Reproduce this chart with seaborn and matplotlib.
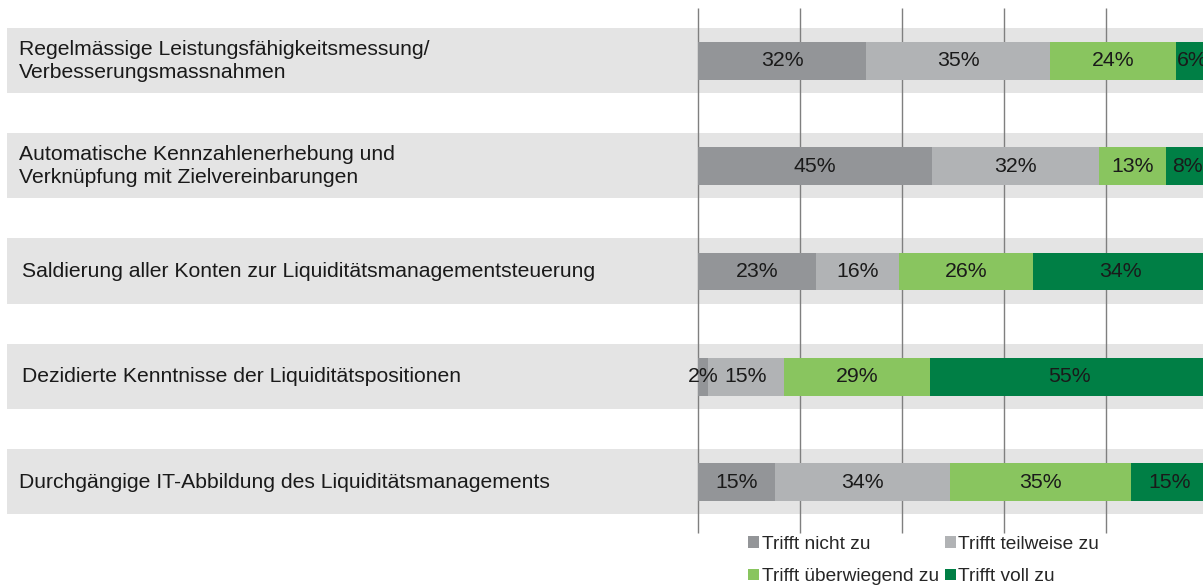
import numpy as np
import pandas as pd
import matplotlib
matplotlib.use("Agg")
import matplotlib.pyplot as plt
from matplotlib.patches import Patch
import matplotlib.transforms as mtransforms
import seaborn as sns

# Survey statements (top to bottom) and answer shares in percent
statements = [
    "Regelmässige Leistungsfähigkeitsmessung/\nVerbesserungsmassnahmen",
    "Automatische Kennzahlenerhebung und\nVerknüpfung mit Zielvereinbarungen",
    "Saldierung aller Konten zur Liquiditätsmanagementsteuerung",
    "Dezidierte Kenntnisse der Liquiditätspositionen",
    "Durchgängige IT-Abbildung des Liquiditätsmanagements",
]
answers = ["Trifft nicht zu", "Trifft teilweise zu", "Trifft überwiegend zu", "Trifft voll zu"]
nicht_zu = [32, 45, 23, 2, 15]
teilweise_zu = [35, 32, 16, 15, 34]
ueberwiegend_zu = [24, 13, 26, 29, 35]
voll_zu = [6, 8, 34, 55, 15]

colors = ["#939598", "#b1b3b5", "#89c55f", "#007f45"]
band_color = "#e4e4e4"
grid_color = "#7f7f7f"

values = np.array([nicht_zu, teilweise_zu, ueberwiegend_zu, voll_zu], dtype=float).T
# each row is scaled to a full 100 % bar
shares = values / values.sum(axis=1, keepdims=True) * 100
cum = np.cumsum(shares, axis=1)

df = pd.DataFrame({"statement": statements})
for j, a in enumerate(answers):
    df[a] = cum[:, j]

W, H = 1203, 588
sns.set_style("white")
plt.rcParams["font.family"] = ["Liberation Sans", "DejaVu Sans"]

fig = plt.figure(figsize=(W / 100, H / 100), dpi=100)
ax = fig.add_axes([0, 0, 1, 1])

# draw cumulative bars from the longest to the shortest so segments stack
for j in range(len(answers) - 1, -1, -1):
    sns.barplot(data=df, x=answers[j], y="statement", order=statements,
                color=colors[j], saturation=1, width=0.36, linewidth=0,
                orient="h", ax=ax, zorder=3)

px = 5.1          # pixels per percent
x0 = 698          # pixel position of 0 %
ax.set_xlim(-x0 / px, (W - x0) / px)
row0, step = 61, 105.25
ax.set_ylim((H - row0) / step, -row0 / step)
ax.axis("off")

label_tf = mtransforms.blended_transform_factory(mtransforms.IdentityTransform(), ax.transData)
n = len(statements)
for i in range(n):
    ax.axhspan(i - 0.315, i + 0.305, xmin=7 / W, xmax=1, color=band_color, zorder=1, lw=0)
    ax.text(19 if i in (0, 1, 4) else 22, i, statements[i], transform=label_tf,
            ha="left", va="center", fontsize=15.2, color="#1a1a1a",
            linespacing=1.25, zorder=4)

for g in [0, 20, 40, 60, 80]:
    ax.vlines(g, -0.505, 4.485, color=grid_color, lw=1, zorder=2)

# value labels centred in each segment
for i in range(n):
    left = 0
    for j in range(len(answers)):
        w = shares[i, j]
        ax.text(left + w / 2, i, f"{int(values[i, j])}%", ha="center", va="center",
                fontsize=15.3, color="#1a1a1a", zorder=5)
        left += w

order = [0, 2, 1, 3]
handles = [Patch(facecolor=colors[k], edgecolor="none") for k in order]
labels = [answers[k] for k in order]
fig.legend(handles, labels, loc="upper left", bbox_to_anchor=(748 / W, 1 - 536 / H),
           ncol=2, frameon=False, fontsize=13.8, handlelength=0.57, handleheight=0.57,
           handletextpad=0.15, columnspacing=0.3, labelspacing=0.8,
           borderpad=0, borderaxespad=0)

fig.savefig("out.png", dpi=100)
